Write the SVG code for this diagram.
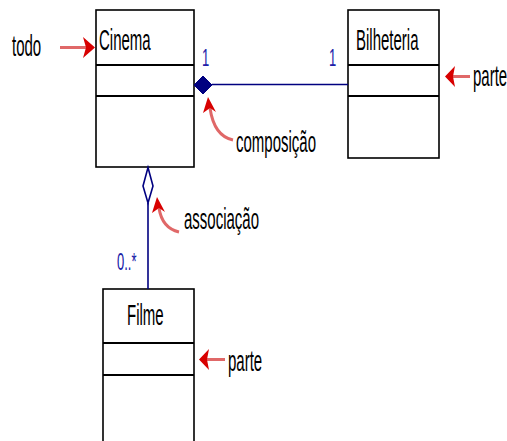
<svg xmlns="http://www.w3.org/2000/svg" width="507" height="441" viewBox="0 0 507 441">
<style>
.box{fill:#fff;stroke:#000;stroke-width:1.6}
.div{stroke:#000;stroke-width:2}
.lbl{font-family:"Liberation Sans",Arial,sans-serif;font-size:15px;fill:#000}
.mult{font-family:"Liberation Sans",Arial,sans-serif;font-size:13px;fill:#2020a8}
.conn{stroke:#000080;stroke-width:1.6;fill:none}
.shaft{stroke:#e06868;stroke-width:3;fill:none}
.head{fill:#d80000}
</style>
<rect width="507" height="441" fill="#fff"/>
<g id="cinema">
<rect class="box" x="96" y="10" width="98" height="157"/>
<line class="div" x1="96" y1="65" x2="194" y2="65"/>
<line class="div" x1="96" y1="96" x2="194" y2="96"/>
<text class="lbl" transform="translate(99,50) scale(1,2)">Cinema</text>
</g>
<g id="bilheteria">
<rect class="box" x="348" y="10" width="91" height="148"/>
<line class="div" x1="348" y1="65" x2="439" y2="65"/>
<line class="div" x1="348" y1="96" x2="439" y2="96"/>
<text class="lbl" transform="translate(356,50) scale(1,2)">Bilheteria</text>
</g>
<g id="filme">
<rect class="box" x="103" y="289" width="91" height="160"/>
<line class="div" x1="103" y1="343" x2="194" y2="343"/>
<line class="div" x1="103" y1="375" x2="194" y2="375"/>
<text class="lbl" transform="translate(127,325) scale(1,2)">Filme</text>
</g>
<g id="connectors">
<line class="conn" x1="212" y1="84.5" x2="348" y2="84.5"/>
<path d="M194,85 L203,76 L212,85 L203,94 Z" fill="#000080" stroke="#000080" stroke-width="1"/>
<line class="conn" x1="148" y1="203" x2="148" y2="289"/>
<path class="conn" d="M148,167.5 L153,186 L148,203 L143,186 Z" fill="#fff"/>
<text class="mult" transform="translate(202,66) scale(1,1.8)">1</text>
<text class="mult" transform="translate(329,66) scale(1,1.8)">1</text>
<text class="mult" transform="translate(117,270) scale(1,1.8)">0..*</text>
</g>
<g id="annotations">
<text class="lbl" transform="translate(12,56) scale(1,2)">todo</text>
<line class="shaft" x1="60" y1="47.5" x2="86" y2="47.5"/>
<path class="head" d="M95,47.5 L83,37 L86,47.5 L83,58 Z"/>
<text class="lbl" transform="translate(473,86) scale(1,2)">parte</text>
<line class="shaft" x1="453" y1="76.5" x2="470" y2="76.5"/>
<path class="head" d="M445,76.5 L455,66 L453,76.5 L455,87 Z"/>
<text class="lbl" transform="translate(228,371) scale(1,2)">parte</text>
<line class="shaft" x1="207" y1="359.5" x2="225" y2="359.5"/>
<path class="head" d="M199,359.5 L209,349 L207,359.5 L209,370 Z"/>
<text class="lbl" transform="translate(236,152) scale(1,2)">composição</text>
<path class="shaft" d="M233,140 Q214,136 210,108"/>
<path class="head" d="M208,97 L203,113 L210,108 L216,112 Z"/>
<text class="lbl" transform="translate(184,229) scale(1,2)">associação</text>
<path class="shaft" d="M179,232 Q162,228 159,208"/>
<path class="head" d="M157,197 L152,213 L159,208 L165,212 Z"/>
</g>
</svg>
